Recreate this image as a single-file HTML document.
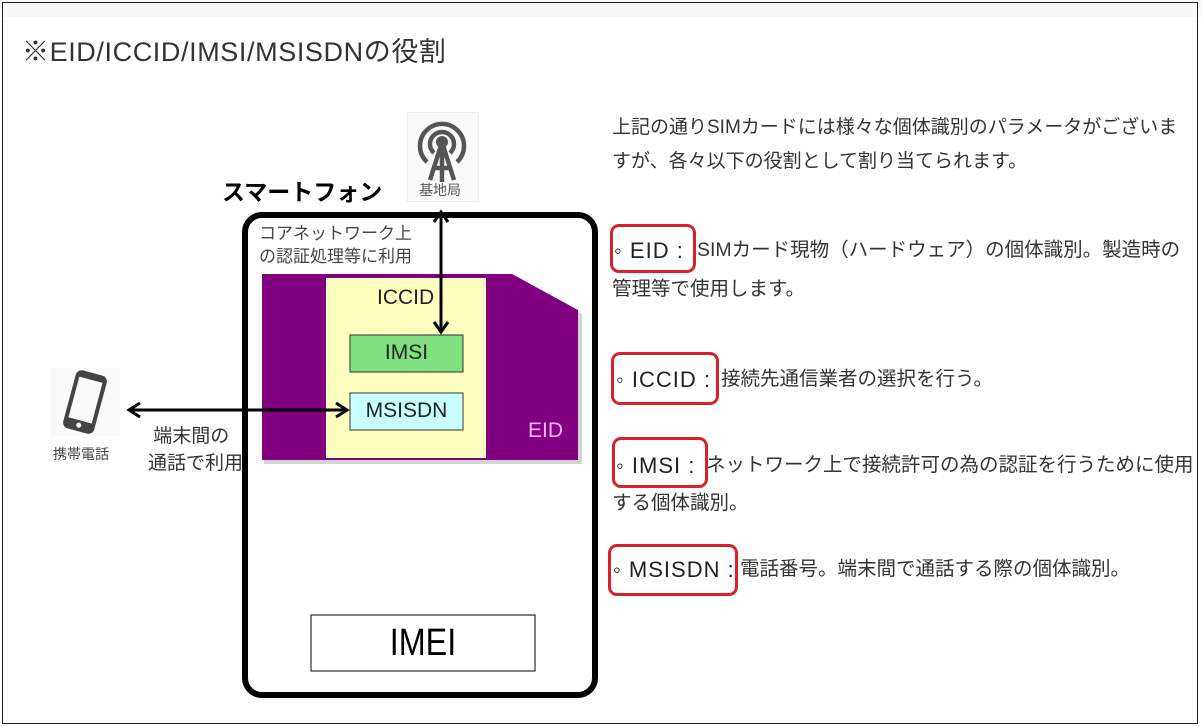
<!DOCTYPE html>
<html><head><meta charset="utf-8"><style>
body{margin:0;width:1202px;height:727px;position:relative;background:#fff;font-family:"Liberation Sans","Noto Sans CJK JP",sans-serif;overflow:hidden}
.a{position:absolute;white-space:nowrap;line-height:1}
.t{color:#333;font-size:19.5px}
.l{color:#222;font-size:22px;letter-spacing:1px}
.r{position:absolute;border:3px solid #d8222a;border-radius:9px}
</style></head><body>
<div style="position:absolute;left:0;top:0;width:1202px;height:17px;background:#f8f8f8"></div>
<div style="position:absolute;left:2px;top:2px;width:1194px;height:720px;border:1px solid #222"></div>
<div class="a" style="left:22px;top:39px;font-size:27px;color:#333;letter-spacing:0.6px">※EID/ICCID/IMSI/MSISDNの役割</div>

<!-- antenna -->
<div style="position:absolute;left:407px;top:112px;width:70px;height:88px;background:#fafafa;border:1px solid #eee"></div>
<svg style="position:absolute;left:407px;top:110px" width="70" height="76" viewBox="0 0 70 76">
<g fill="none" stroke="#555" stroke-width="4.5"><path d="M20 52 A22 22 0 1 1 50 52"/><path d="M27 43 A12 12 0 1 1 43 43"/>
<path d="M35 32 L23 70 M35 32 L47 70 M35 32 L35 72 M28 58 L42 58"/></g><circle cx="35" cy="32" r="6" fill="#555"/></svg>
<div class="a" style="left:419px;top:183px;font-size:14px;color:#555">基地局</div>
<div class="a" style="left:222px;top:181px;font-size:23px;font-weight:bold;color:#000">スマートフォン</div>

<!-- phone body -->
<div style="position:absolute;left:242px;top:212px;width:344px;height:474px;border:6px solid #000;border-radius:20px"></div>
<div class="a" style="left:259px;top:222px;font-size:17px;color:#444;line-height:23px">コアネットワーク上<br>の認証処理等に利用</div>

<svg style="position:absolute;left:0;top:0" width="1202" height="727">
<polygon points="262,274 514,274 580,312 580,462 262,462" fill="#808080" opacity=".35" transform="translate(2,2)"/>
<polygon points="262,274 512,274 578,310 578,460 262,460" fill="#800080"/>
<rect x="326" y="278" width="160" height="180" fill="#ffffc0"/>
<rect x="350" y="335" width="113" height="37" fill="#80e080" stroke="#333" stroke-width="1"/>
<rect x="350" y="393" width="113" height="37" fill="#c8ffff" stroke="#333" stroke-width="1"/>
<g stroke="#000" stroke-width="3" fill="none">
<line x1="441" y1="214" x2="441" y2="330"/><polyline points="434,222 441,212 448,222"/><polyline points="434,322 441,332 448,322"/>
<line x1="130" y1="410" x2="345" y2="410"/><polyline points="140,403 129,410 140,417"/><polyline points="336,403 347,410 336,417"/>
</g>
<rect x="311" y="615" width="224" height="56" fill="#fff" stroke="#000" stroke-width="1"/>
</svg>
<div class="a" style="left:377px;top:287px;font-size:21px;color:#222">ICCID</div>
<div class="a" style="left:350px;top:342px;width:113px;text-align:center;font-size:21px;color:#222">IMSI</div>
<div class="a" style="left:350px;top:400px;width:113px;text-align:center;font-size:21px;color:#222">MSISDN</div>
<div class="a" style="left:528px;top:420px;font-size:21px;color:#ffb0ff">EID</div>
<div class="a" style="left:311px;top:624px;width:224px;text-align:center;font-size:38px;color:#000;transform:scaleX(0.85)">IMEI</div>

<!-- handset -->
<div style="position:absolute;left:50px;top:368px;width:70px;height:68px;background:#fafafa"></div>
<svg style="position:absolute;left:50px;top:368px" width="70" height="68" viewBox="0 0 70 68">
<g transform="rotate(15 35 34)"><rect x="19" y="4" width="32" height="60" rx="6" fill="#444"/><rect x="23" y="11" width="24" height="42" fill="#fafafa"/><circle cx="35" cy="58" r="2.5" fill="#fafafa"/></g></svg>
<div class="a" style="left:53px;top:447px;font-size:14px;color:#444">携帯電話</div>
<div class="a" style="left:148px;top:423px;font-size:19px;color:#333;line-height:27px">&nbsp;端末間の<br>通話で利用</div>

<!-- right text -->
<div class="a t" style="left:612px;top:118px;font-size:19px">上記の通りSIMカードには様々な個体識別のパラメータがございま</div>
<div class="a t" style="left:612px;top:152px;font-size:19px">すが、各々以下の役割として割り当てられます。</div>

<div class="a l" style="left:614px;top:240px">◦ EID :</div>
<div class="a t" style="left:697px;top:241px">SIMカード現物（ハードウェア）の個体識別。製造時の</div>
<div class="a t" style="left:612px;top:280px">管理等で使用します。</div>

<div class="a l" style="left:616px;top:369px">◦ ICCID :</div>
<div class="a t" style="left:721px;top:370px">接続先通信業者の選択を行う。</div>

<div class="a l" style="left:616px;top:455px">◦ IMSI :</div>
<div class="a t" style="left:706px;top:456px">ネットワーク上で接続許可の為の認証を行うために使用</div>
<div class="a t" style="left:612px;top:494px">する個体識別。</div>

<div class="a l" style="left:613px;top:559px">◦ MSISDN :</div>
<div class="a t" style="left:740px;top:560px">電話番号。端末間で通話する際の個体識別。</div>

<div class="r" style="left:610px;top:224px;width:80px;height:43px"></div>
<div class="r" style="left:611px;top:352px;width:102px;height:47px"></div>
<div class="r" style="left:612px;top:437px;width:90px;height:45px"></div>
<div class="r" style="left:608px;top:544px;width:124px;height:46px"></div>
</body></html>
